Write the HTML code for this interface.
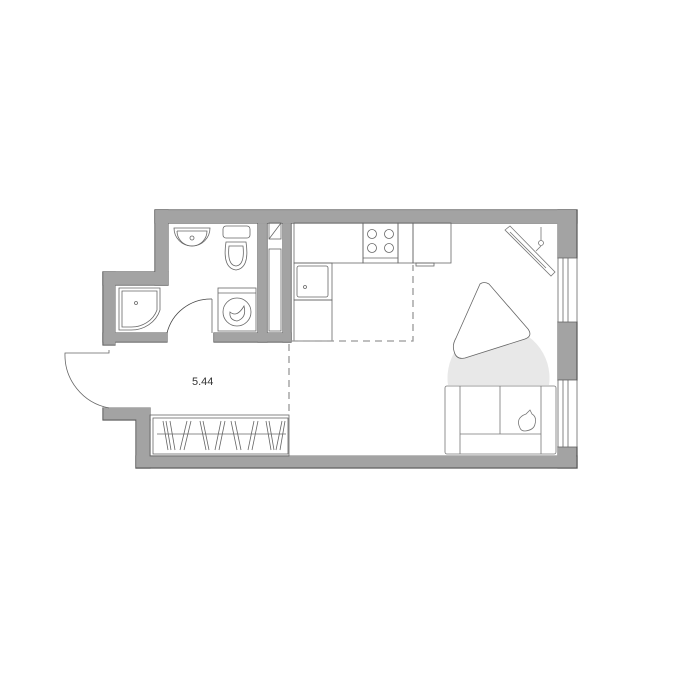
<!DOCTYPE html>
<html><head><meta charset="utf-8"><style>body{margin:0;background:#fff}svg{display:block}</style></head><body>
<svg width="680" height="679" viewBox="0 0 680 679" xmlns="http://www.w3.org/2000/svg">
<defs>
<g id="walls">
<rect x="155" y="210" width="422" height="13"/>
<rect x="558" y="210" width="19" height="48"/>
<rect x="558" y="322" width="19" height="58"/>
<rect x="558" y="447" width="19" height="21"/>
<rect x="136" y="456" width="441" height="12"/>
<rect x="136" y="420" width="14" height="48"/>
<rect x="103" y="408" width="47" height="12"/>
<rect x="155" y="210" width="13" height="75"/>
<rect x="103" y="272" width="65" height="13"/>
<rect x="103" y="272" width="12" height="73"/>
<rect x="103" y="333" width="64" height="9"/>
<rect x="214" y="333" width="77" height="9"/>
<rect x="258" y="223" width="9" height="119"/>
<rect x="283" y="223" width="8" height="119"/>
</g>
</defs>
<use href="#walls" fill="#a3a3a3" stroke="#555" stroke-width="1.2"/>
<use href="#walls" fill="#a3a3a3" stroke="#a3a3a3" stroke-width="0" transform="translate(0.6,0.6) scale(0.9975)"/>
<g fill="#a3a3a3">
<rect x="156" y="211" width="11" height="73"/><rect x="104" y="273" width="63" height="11"/><rect x="104" y="273" width="10" height="71"/>
<rect x="104" y="334" width="62" height="7"/><rect x="137" y="409" width="12" height="58"/><rect x="104" y="409" width="45" height="10"/>
<rect x="137" y="457" width="439" height="10"/><rect x="156" y="211" width="420" height="11"/><rect x="559" y="211" width="17" height="46"/>
<rect x="559" y="448" width="17" height="19"/><rect x="215" y="334" width="75" height="7"/><rect x="259" y="224" width="7" height="117"/><rect x="284" y="224" width="6" height="117"/>
</g>
<g fill="#fff" stroke="#666" stroke-width="0.8">
<rect x="558" y="258" width="19" height="64"/><line x1="563" y1="258" x2="563" y2="322"/><line x1="568" y1="258" x2="568" y2="322"/>
<rect x="558" y="380" width="19" height="67"/><line x1="563" y1="380" x2="563" y2="447"/><line x1="568" y1="380" x2="568" y2="447"/>
</g>
<g fill="none" stroke="#666" stroke-width="0.8">
<rect x="269" y="223" width="12" height="16"/><line x1="269" y1="239" x2="281" y2="223"/>
<rect x="269" y="249" width="12" height="82"/>
<path d="M174 228 H210 A18 18 0 0 1 174 228 Z"/><path d="M177 231 H207 A15 15 0 0 1 177 231"/><circle cx="192" cy="238" r="2"/>
<rect x="223" y="226" width="27" height="12" rx="3"/><path d="M226 242 Q222 268 236 270 Q250 268 246 242 Z"/><path d="M229 246 Q227 265 236 266 Q245 265 243 246 Z"/>
<rect x="218" y="288" width="38" height="43"/><line x1="218" y1="293" x2="256" y2="293"/><circle cx="237" cy="312" r="14"/><path d="M230 312 Q237 318 244 306 Q247 318 237 321 Q229 320 230 312Z"/>
<path d="M119 288 H160 V310 A30 28 0 0 1 130 330 H119 Z"/><path d="M122 291 H157 V310 A27 25 0 0 1 130 327 H122 Z"/><circle cx="136" cy="303" r="1.5"/>
<path d="M167 333 A45 45 0 0 1 212 299" stroke="#444"/><line x1="212" y1="299" x2="212" y2="333"/>
<path d="M109 408 A54 54 0 0 1 65 353 H109 V350"/>
<rect x="150" y="415" width="139" height="41"/><rect x="153" y="418" width="135" height="36"/>
<line x1="157" y1="434" x2="286" y2="434"/>
<path d="M163 421 L168 450 M166 421 L171 450 M170 421 L175 450 M180 450 L187 421 M184 450 L191 421 M200 421 L206 450 M203 421 L209 450 M215 450 L221 421 M219 450 L225 421 M231 421 L237 450 M235 421 L241 450 M248 450 L254 421 M252 450 L258 421 M266 421 L271 450 M269 421 L274 450 M276 450 L282 421 M280 450 L285 421"/>
<rect x="294" y="223" width="69" height="40"/><rect x="363" y="223" width="35" height="40"/>
<line x1="363" y1="258" x2="398" y2="258"/>
<circle cx="372" cy="234" r="4.5"/><circle cx="389" cy="234" r="4.5"/><circle cx="372" cy="248" r="4.5"/><circle cx="389" cy="248" r="4.5"/>
<rect x="398" y="223" width="15" height="40"/>
<rect x="413" y="223" width="38" height="40"/><rect x="416" y="263" width="18" height="3"/>
<rect x="294" y="263" width="38" height="37"/><rect x="297" y="266" width="31" height="31" rx="2"/><circle cx="305" cy="287" r="1.5"/>
<rect x="294" y="300" width="38" height="41"/>
</g>
<g fill="none" stroke="#999" stroke-width="1.3" stroke-dasharray="7,5">
<path d="M289 344 V415"/><path d="M291 341 H413 V265"/>
</g>
<path d="M448 385 A51 51 0 1 1 549 385 Z" fill="#e8e8e8"/>
<path d="M480 284 Q484 281 489 284 L528 329 Q533 336 525 339 L465 358 Q456 360 454 351 Q452 345 456 338 Z" fill="#fff" stroke="#666" stroke-width="0.8"/>
<g fill="#fff" stroke="#777" stroke-width="0.8">
<rect x="445" y="386" width="111" height="68" rx="2"/>
<line x1="460" y1="386" x2="460" y2="454"/><line x1="541" y1="386" x2="541" y2="454"/>
<line x1="500" y1="386" x2="500" y2="434"/><line x1="460" y1="434" x2="541" y2="434"/>
<path d="M520 428 Q515 418 526 414 L530 410 L532 414 Q537 417 535 424 Q534 430 525 431 Q521 431 520 428Z" fill="none"/>
<path d="M505 230 L510 226 L555 272 L551 276 Z" fill="none"/><line x1="510" y1="232" x2="546" y2="268"/>
<line x1="541" y1="227" x2="541" y2="241"/><circle cx="541" cy="243" r="2.5"/><line x1="541" y1="246" x2="536" y2="251"/>
</g>
<text x="192" y="385" font-family="Liberation Sans, sans-serif" font-size="11" fill="#333">5.44</text>
</svg>
</body></html>
